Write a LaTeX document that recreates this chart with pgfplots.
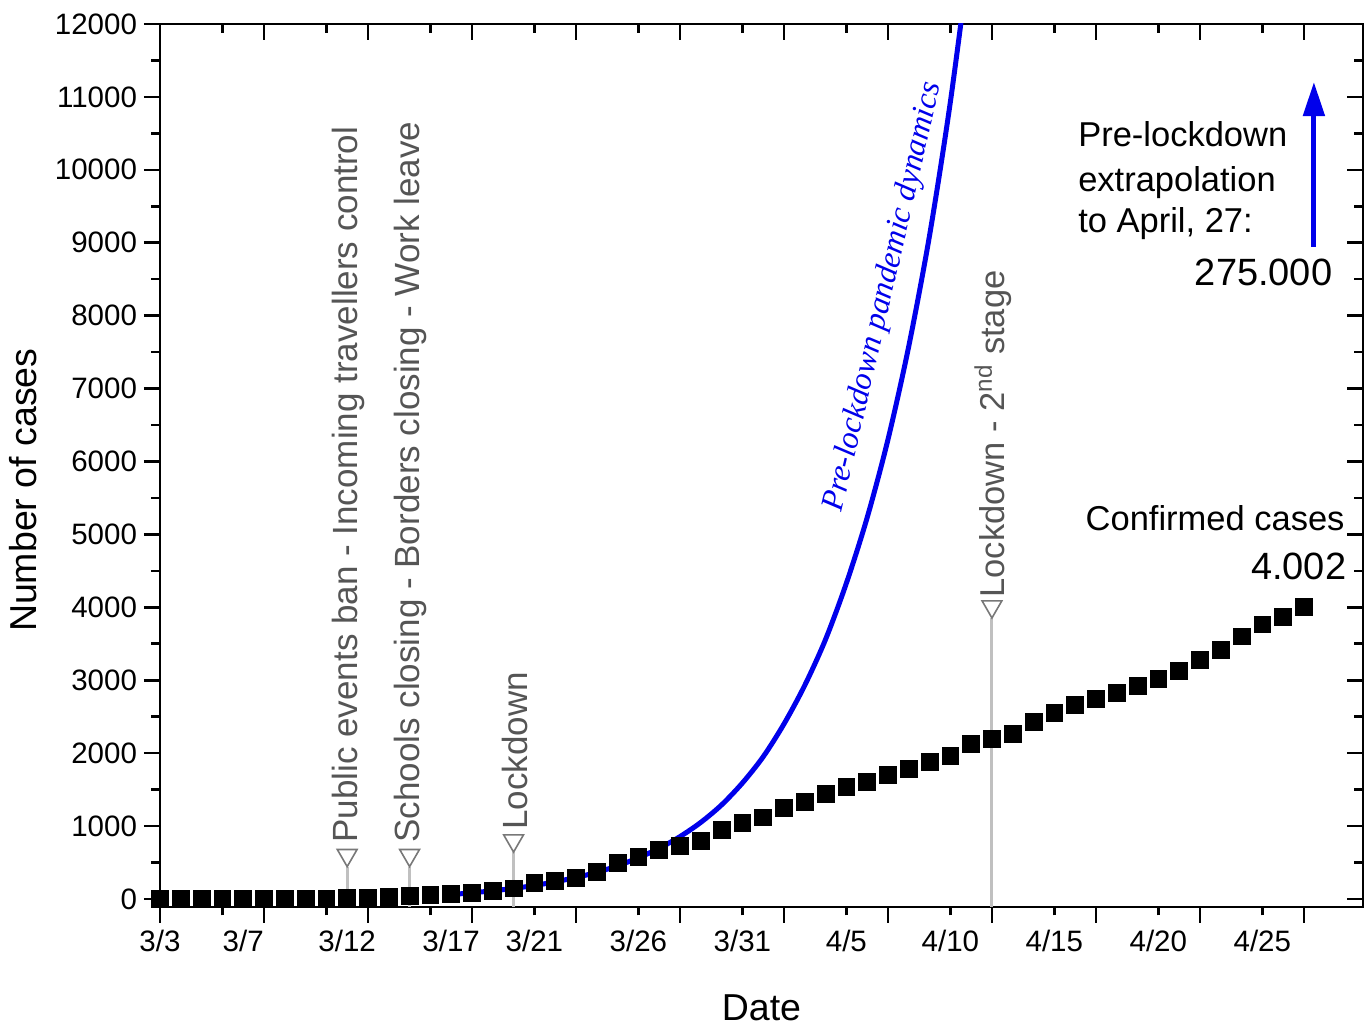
\documentclass[border=0pt]{standalone}
\usepackage{pgfplots}
\pgfplotsset{compat=1.18}
\usepackage{pgfplotstable}
\usepackage{fontspec}
\setmainfont{Liberation Sans}
\newfontfamily\blueserif{Liberation Serif}
\usetikzlibrary{arrows.meta}
\definecolor{annot}{RGB}{85,85,85}
\definecolor{tri}{RGB}{120,120,120}
\definecolor{vline}{RGB}{192,192,192}
\definecolor{cblue}{RGB}{0,0,235}
\newcommand\annfont{\fontsize{17.5pt}{20pt}\selectfont}
\newcommand\rightfont{\fontsize{17.25pt}{20pt}\selectfont}
\newcommand\bigfont{\fontsize{19pt}{22pt}\selectfont}

\pgfplotstableread{
d v
0 0
1 0
2 0
3 1
4 2
5 3
6 4
7 5
8 7
9 10
10 20
11 30
12 40
13 55
14 65
15 85
16 110
17 145
18 215
19 250
20 285
21 375
22 490
23 575
24 670
25 730
26 800
27 945
28 1040
29 1120
30 1245
31 1335
32 1440
33 1540
34 1610
35 1700
36 1780
37 1875
38 1965
39 2125
40 2195
41 2265
42 2430
43 2555
44 2660
45 2745
46 2830
47 2925
48 3015
49 3130
50 3280
51 3415
52 3600
53 3765
54 3870
55 4002
}\confirmed

\pgfplotstableread{
d v
14 60
15 85
16 112
17 145
18 185
19 235
20 295
21 365
22 455
23 565
24 695
25 855
26 1050
27 1290
28 1590
29 1950
30 2400
31 2930
32 3560
33 4330
34 5230
35 6300
36 7580
37 9100
38 10930
39 13100
}\prelock

\pgfplotsset{common/.style={scale only axis, width=601.5pt, height=441.5pt,
  xmin=0, xmax=57.84, ymin=-110, ymax=12000, at={(0pt,0pt)}, anchor=south west}}

\begin{document}
\begin{tikzpicture}
\path[use as bounding box] (-80pt,-62pt) rectangle (602pt,453.5pt);
% ticks: bottom/left outside
\begin{axis}[common, axis line style={draw=none},
  xtick={0,5,...,55}, minor xtick={3,8,...,53},
  ytick={0,1000,...,12000}, minor ytick={500,1500,...,11500},
  xticklabels={}, yticklabels={},
  tick align=outside, xtick pos=bottom, ytick pos=left,
  major tick length=8pt, minor tick length=4.25pt,
  tick style={line width=1.3pt, black}]
\end{axis}
% ticks: top/right inside
\begin{axis}[common, axis line style={draw=none},
  xtick={0,5,...,55}, minor xtick={3,8,...,53},
  ytick={0,1000,...,12000}, minor ytick={500,1500,...,11500},
  xticklabels={}, yticklabels={},
  tick align=inside, xtick pos=top, ytick pos=right,
  major tick length=8pt, minor tick length=4.5pt,
  tick style={line width=1.3pt, black}]
\end{axis}
% main axis
\begin{axis}[common,
  axis line style={line width=1.3pt, black},
  tick style={draw=none}, tick align=outside, major tick length=8pt,
  xtick pos=bottom, ytick pos=left,
  xtick={0,4,9,14,18,23,28,33,38,43,48,53},
  xticklabels={3/3,3/7,3/12,3/17,3/21,3/26,3/31,4/5,4/10,4/15,4/20,4/25},
  ytick={0,1000,...,12000}, scaled y ticks=false,
  /pgf/number format/1000 sep={},
  /pgf/number format/assume math mode=true,
  ticklabel style={font=\fontsize{14.75pt}{17pt}\selectfont},
  xlabel={Date}, ylabel={Number of cases},
  every axis x label/.style={at={(axis description cs:0.5,-0.128)}, anchor=base,
    font=\fontsize{18.75pt}{22pt}\selectfont},
  every axis y label/.style={at={(axis description cs:-0.0964,0.472)}, anchor=south, rotate=90,
    font=\fontsize{18.75pt}{22pt}\selectfont}]
\addplot[only marks, mark=square*, mark size=4.2pt, mark options={draw=none, fill=black}]
  table[x=d, y=v]{\confirmed};
\addplot[cblue, line width=2.5pt, smooth] table[x=d, y=v]{\prelock};
\addplot[vline, line width=1.5pt] coordinates {(9,-110) (9,444)};
\addplot[vline, line width=1.5pt] coordinates {(12,-110) (12,444)};
\addplot[vline, line width=1.5pt] coordinates {(17,-110) (17,644)};
\addplot[vline, line width=1.5pt] coordinates {(40,-110) (40,3854)};
\addplot[only marks, mark=triangle*, mark size=5.7pt,
  mark options={rotate=180, draw=tri, fill=white, line width=0.8pt}]
  coordinates {(9,600) (12,600) (17,800) (40,4010)};
\addplot[cblue, line width=2.5pt, -{Triangle[length=17pt, width=10.5pt]}]
  coordinates {(55.48,8945) (55.48,11204)};
\node[rotate=90, anchor=west, inner sep=0pt, text=annot, font=\annfont] at (axis cs:9.05,768)
  {Public events ban - Incoming travellers control};
\node[rotate=90, anchor=west, inner sep=0pt, text=annot, font=\annfont] at (axis cs:12.05,768)
  {Schools closing - Borders closing - Work leave};
\node[rotate=90, anchor=west, inner sep=0pt, text=annot, font=\annfont] at (axis cs:17.05,946)
  {Lockdown};
\node[rotate=90, anchor=west, inner sep=0pt, text=annot, font=\fontsize{17.25pt}{20pt}\selectfont] at (axis cs:40.05,4128)
  {Lockdown - 2\textsuperscript{nd} stage};
\node[rotate=77, text=cblue, inner sep=0pt, font=\blueserif\itshape\fontsize{16pt}{18pt}\selectfont]
  at (axis cs:34.8,8255) {Pre-lockdown pandemic dynamics};
\node[anchor=base west, inner sep=0pt, font=\rightfont] at (axis cs:44.13,10313) {Pre-lockdown};
\node[anchor=base west, inner sep=0pt, font=\rightfont] at (axis cs:44.13,9709) {extrapolation};
\node[anchor=base west, inner sep=0pt, font=\rightfont] at (axis cs:44.13,9140) {to April, 27:};
\node[anchor=base east, inner sep=0pt, font=\bigfont] at (axis cs:56.38,8407) {275.000};
\node[anchor=base east, inner sep=0pt, font=\rightfont] at (axis cs:56.97,5060) {Confirmed cases};
\node[anchor=base east, inner sep=0pt, font=\bigfont] at (axis cs:57.05,4388) {4.002};
\end{axis}
\end{tikzpicture}
\end{document}
